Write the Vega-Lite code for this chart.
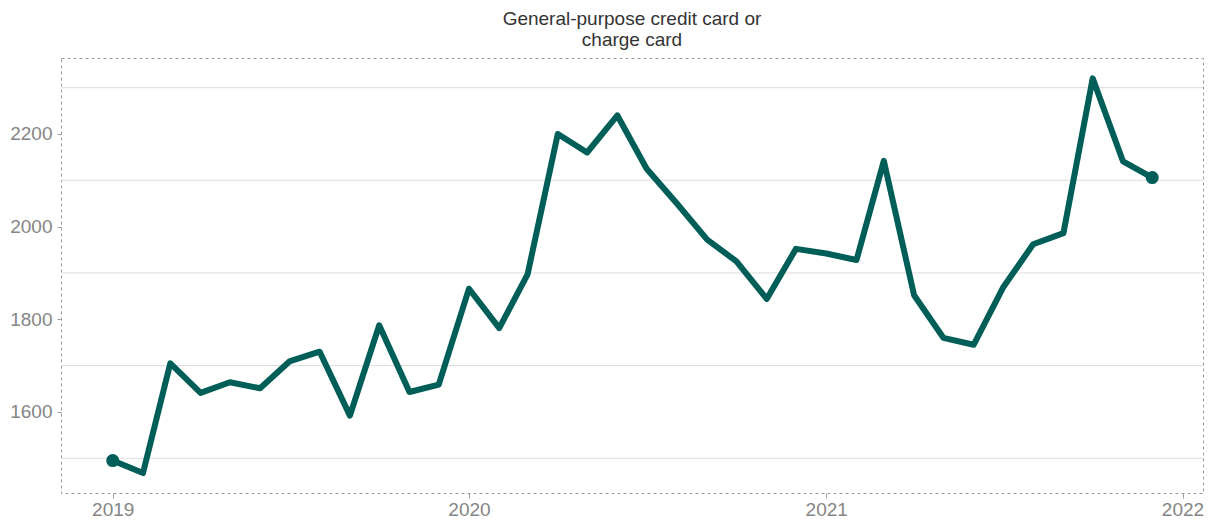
{
  "$schema": "https://vega.github.io/schema/vega-lite/v6.json",
  "width": 1142,
  "height": 435,
  "autosize": {"type": "none"},
  "padding": {"left": 61, "top": 58, "right": 9, "bottom": 28},
  "background": "white",
  "title": {
    "text": ["General-purpose credit card or", "charge card"],
    "font": "Liberation Sans",
    "fontSize": 19,
    "fontWeight": "normal",
    "color": "#333333",
    "lineHeight": 21,
    "anchor": "middle",
    "offset": 8
  },
  "config": {
    "view": {"stroke": "#9a9a9a", "strokeDash": [3, 3], "strokeWidth": 1},
    "axis": {
      "labelFont": "Liberation Sans",
      "labelFontSize": 19,
      "labelColor": "#858585",
      "tickColor": "#a0a0a0",
      "domain": false,
      "grid": false,
      "title": null
    }
  },
  "datasets": {
    "series": [
      {"date": "2019-01-01", "value": 1495},
      {"date": "2019-02-01", "value": 1468},
      {"date": "2019-03-01", "value": 1705},
      {"date": "2019-04-01", "value": 1641},
      {"date": "2019-05-01", "value": 1664},
      {"date": "2019-06-01", "value": 1651},
      {"date": "2019-07-01", "value": 1709},
      {"date": "2019-08-01", "value": 1730},
      {"date": "2019-09-01", "value": 1592},
      {"date": "2019-10-01", "value": 1787},
      {"date": "2019-11-01", "value": 1643},
      {"date": "2019-12-01", "value": 1659},
      {"date": "2020-01-01", "value": 1866},
      {"date": "2020-02-01", "value": 1781},
      {"date": "2020-03-01", "value": 1897},
      {"date": "2020-04-01", "value": 2200},
      {"date": "2020-05-01", "value": 2160},
      {"date": "2020-06-01", "value": 2240},
      {"date": "2020-07-01", "value": 2125},
      {"date": "2020-08-01", "value": 2050},
      {"date": "2020-09-01", "value": 1972},
      {"date": "2020-10-01", "value": 1925},
      {"date": "2020-11-01", "value": 1844},
      {"date": "2020-12-01", "value": 1952},
      {"date": "2021-01-01", "value": 1942},
      {"date": "2021-02-01", "value": 1928},
      {"date": "2021-03-01", "value": 2142},
      {"date": "2021-04-01", "value": 1852},
      {"date": "2021-05-01", "value": 1760},
      {"date": "2021-06-01", "value": 1745},
      {"date": "2021-07-01", "value": 1868},
      {"date": "2021-08-01", "value": 1962},
      {"date": "2021-09-01", "value": 1986},
      {"date": "2021-10-01", "value": 2320},
      {"date": "2021-11-01", "value": 2141},
      {"date": "2021-12-01", "value": 2106}
    ],
    "grid": [
      {"level": 1500},
      {"level": 1700},
      {"level": 1900},
      {"level": 2100},
      {"level": 2300}
    ]
  },
  "layer": [
    {
      "data": {"name": "grid"},
      "mark": {"type": "rule", "color": "#dcdcdc", "strokeWidth": 1},
      "encoding": {
        "y": {"field": "level", "type": "quantitative"}
      }
    },
    {
      "data": {"name": "series"},
      "mark": {"type": "line", "color": "#005e58", "strokeWidth": 6, "strokeJoin": "round", "strokeCap": "butt"},
      "encoding": {
        "x": {
          "field": "date",
          "type": "temporal",
          "scale": {
            "type": "utc",
            "domain": [
              {"year": 2018, "month": "nov", "date": 9, "utc": true},
              {"year": 2022, "month": "jan", "date": 22, "utc": true}
            ]
          },
          "axis": {
            "values": [
              {"year": 2019, "month": "jan", "date": 1, "utc": true},
              {"year": 2020, "month": "jan", "date": 1, "utc": true},
              {"year": 2021, "month": "jan", "date": 1, "utc": true},
              {"year": 2022, "month": "jan", "date": 1, "utc": true}
            ],
            "format": "%Y",
            "formatType": "utc",
            "tickSize": 5,
            "labelPadding": 2
          }
        },
        "y": {
          "field": "value",
          "type": "quantitative",
          "scale": {"domain": [1425, 2364], "nice": false, "zero": false},
          "axis": {
            "values": [1600, 1800, 2000, 2200],
            "format": "d",
            "tickSize": 4,
            "labelPadding": 5
          }
        }
      }
    },
    {
      "data": {"name": "series"},
      "transform": [
        {"filter": "(utcyear(datum.date) == 2019 && utcmonth(datum.date) == 0) || (utcyear(datum.date) == 2021 && utcmonth(datum.date) == 11)"}
      ],
      "mark": {"type": "point", "shape": "circle", "filled": true, "color": "#005e58", "opacity": 1, "size": 170},
      "encoding": {
        "x": {"field": "date", "type": "temporal"},
        "y": {"field": "value", "type": "quantitative"}
      }
    }
  ]
}
